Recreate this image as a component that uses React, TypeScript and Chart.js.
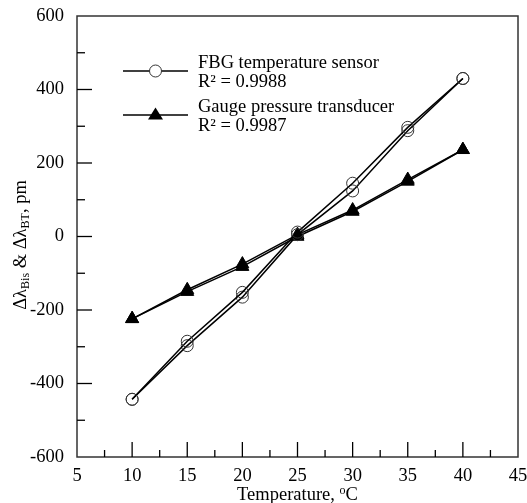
import React, { useEffect, useRef } from "react";
import { Chart, registerables } from "chart.js";

Chart.register(...registerables);

const temps = [10, 15, 20, 25, 30, 35, 40];
const fbgHeating = [-443, -285, -152, 12, 145, 297, 430];
const fbgCooling = [-443, -297, -165, 5, 124, 288, 430];
const gaugeHeating = [-224, -145, -75, 5, 72, 155, 236];
const gaugeCooling = [-224, -150, -82, 0, 68, 150, 236];
const legendLabels = ["FBG temperature sensor", "R² = 0.9988", "Gauge pressure transducer", "R² = 0.9987"];

const FONT = "'Liberation Serif', 'Times New Roman', serif";
const INK = "#000";
const FS = 18.5;
const FSUB = 12;

const decorPlugin = {
  id: "decor",
  afterDraw(chart: any) {
    const { ctx, chartArea: a, scales } = chart;
    const xs = scales.x;
    const ys = scales.y;
    ctx.save();
    // box
    ctx.strokeStyle = "#333";
    ctx.lineWidth = 1.5;
    ctx.strokeRect(a.left, a.top, a.right - a.left, a.bottom - a.top);
    // inward ticks
    ctx.strokeStyle = INK;
    ctx.lineWidth = 1.3;
    for (let v = 7.5; v < 45; v += 2.5) {
      const px = xs.getPixelForValue(v);
      const len = v % 5 === 0 ? 15 : 7;
      ctx.beginPath();
      ctx.moveTo(px, a.bottom);
      ctx.lineTo(px, a.bottom - len);
      ctx.stroke();
    }
    for (let v = -500; v < 600; v += 100) {
      const py = ys.getPixelForValue(v);
      const len = v % 200 === 0 ? 15 : 8;
      ctx.beginPath();
      ctx.moveTo(a.left, py);
      ctx.lineTo(a.left + len, py);
      ctx.stroke();
    }
    // legend
    const lx0 = a.left + 46;
    const lx1 = a.left + 111;
    const lmid = (lx0 + lx1) / 2;
    const rows = [
      { y: a.top + 55, style: "circle" },
      { y: a.top + 99, style: "triangle" },
    ];
    rows.forEach((r, i) => {
      ctx.strokeStyle = INK;
      ctx.lineWidth = 1.5;
      ctx.beginPath();
      ctx.moveTo(lx0, r.y);
      ctx.lineTo(lx1, r.y);
      ctx.stroke();
      if (r.style === "circle") {
        ctx.fillStyle = "#fff";
        ctx.beginPath();
        ctx.arc(lmid, r.y, 6, 0, Math.PI * 2);
        ctx.fill();
        ctx.lineWidth = 1;
        ctx.strokeStyle = "#333";
        ctx.stroke();
      } else {
        const s = 7.5;
        ctx.fillStyle = "#000";
        ctx.beginPath();
        ctx.moveTo(lmid, r.y - s);
        ctx.lineTo(lmid + s, r.y + s * 0.6);
        ctx.lineTo(lmid - s, r.y + s * 0.6);
        ctx.closePath();
        ctx.fill();
      }
      ctx.fillStyle = INK;
      ctx.font = `${FS}px ${FONT}`;
      ctx.textAlign = "left";
      ctx.textBaseline = "middle";
      ctx.fillText(legendLabels[i * 2], lx1 + 10, r.y - 8);
      ctx.fillText(legendLabels[i * 2 + 1], lx1 + 10, r.y + 11);
    });
    // x title
    ctx.fillStyle = INK;
    ctx.textBaseline = "middle";
    const xt1 = "Temperature, ";
    const xt2 = "o";
    const xt3 = "C";
    ctx.font = `${FS}px ${FONT}`;
    const w1 = ctx.measureText(xt1).width;
    const w3 = ctx.measureText(xt3).width;
    ctx.font = `${FSUB}px ${FONT}`;
    const w2 = ctx.measureText(xt2).width;
    const cx = (a.left + a.right) / 2;
    const ty = 495;
    let sx = cx - (w1 + w2 + w3) / 2;
    ctx.textAlign = "left";
    ctx.font = `${FS}px ${FONT}`;
    ctx.fillText(xt1, sx, ty);
    sx += w1;
    ctx.font = `${FSUB}px ${FONT}`;
    ctx.fillText(xt2, sx, ty - 4);
    sx += w2;
    ctx.font = `${FS}px ${FONT}`;
    ctx.fillText(xt3, sx, ty);
    // y title
    const parts: [string, boolean][] = [
      ["Δλ", false],
      ["Bis", true],
      [" & Δλ", false],
      ["BT", true],
      [", pm", false],
    ];
    let total = 0;
    const widths = parts.map(([t, sub]) => {
      ctx.font = sub ? `${FSUB}px ${FONT}` : `${FS}px ${FONT}`;
      const w = ctx.measureText(t).width;
      total += w;
      return w;
    });
    ctx.translate(21, 245);
    ctx.rotate(-Math.PI / 2);
    let px = -total / 2;
    parts.forEach(([t, sub], i) => {
      ctx.font = sub ? `${FSUB}px ${FONT}` : `${FS}px ${FONT}`;
      ctx.fillText(t, px, sub ? 5 : 0);
      px += widths[i];
    });
    ctx.restore();
  },
};

function mk(label: string, data: number[], marker: string) {
  return {
    label,
    data: temps.map((t, i) => ({ x: t, y: data[i] })),
    borderColor: INK,
    borderWidth: 1.5,
    backgroundColor: marker === "circle" ? "rgba(255,255,255,0)" : "#000",
    pointStyle: marker,
    pointRadius: marker === "circle" ? 6 : 7.5,
    pointBorderWidth: 1,
    pointBorderColor: marker === "circle" ? "#333" : "#000",
    pointBackgroundColor: marker === "circle" ? "rgba(255,255,255,0)" : "#000",
    showLine: true,
    fill: false,
    tension: 0,
  };
}

export default function App() {
  const ref = useRef<HTMLCanvasElement>(null);
  useEffect(() => {
    if (!ref.current) return;
    const chart = new Chart(ref.current, {
      type: "scatter",
      data: {
        datasets: [
          mk("FBG heating", fbgHeating, "circle"),
          mk("FBG cooling", fbgCooling, "circle"),
          mk("Gauge heating", gaugeHeating, "triangle"),
          mk("Gauge cooling", gaugeCooling, "triangle"),
        ] as any,
      },
      options: {
        animation: false,
        responsive: false,
        layout: { padding: { top: 16, right: 9, left: 0, bottom: 0 } },
        plugins: { legend: { display: false }, tooltip: { enabled: false } },
        scales: {
          x: {
            type: "linear",
            min: 5,
            max: 45,
            grid: { display: false, drawTicks: false },
            border: { display: false },
            ticks: {
              stepSize: 5,
              color: INK,
              font: { family: FONT, size: FS },
              padding: 8,
              maxRotation: 0,
            },
            afterFit: (s: any) => {
              s.height = 46;
              s.paddingLeft = 0;
              s.paddingRight = 0;
            },
          },
          y: {
            type: "linear",
            min: -600,
            max: 600,
            grid: { display: false, drawTicks: false },
            border: { display: false },
            ticks: {
              stepSize: 200,
              color: INK,
              font: { family: FONT, size: FS },
              padding: 13,
            },
            afterFit: (s: any) => {
              s.width = 77;
              s.paddingTop = 0;
              s.paddingBottom = 0;
            },
          },
        },
      },
      plugins: [decorPlugin],
    });
    return () => chart.destroy();
  }, []);
  return (
    <div style={{ position: "fixed", left: 0, top: 0, width: 527, height: 503, background: "#fff" }}>
      <canvas ref={ref} width={527} height={503} style={{ width: 527, height: 503 }} />
    </div>
  );
}
